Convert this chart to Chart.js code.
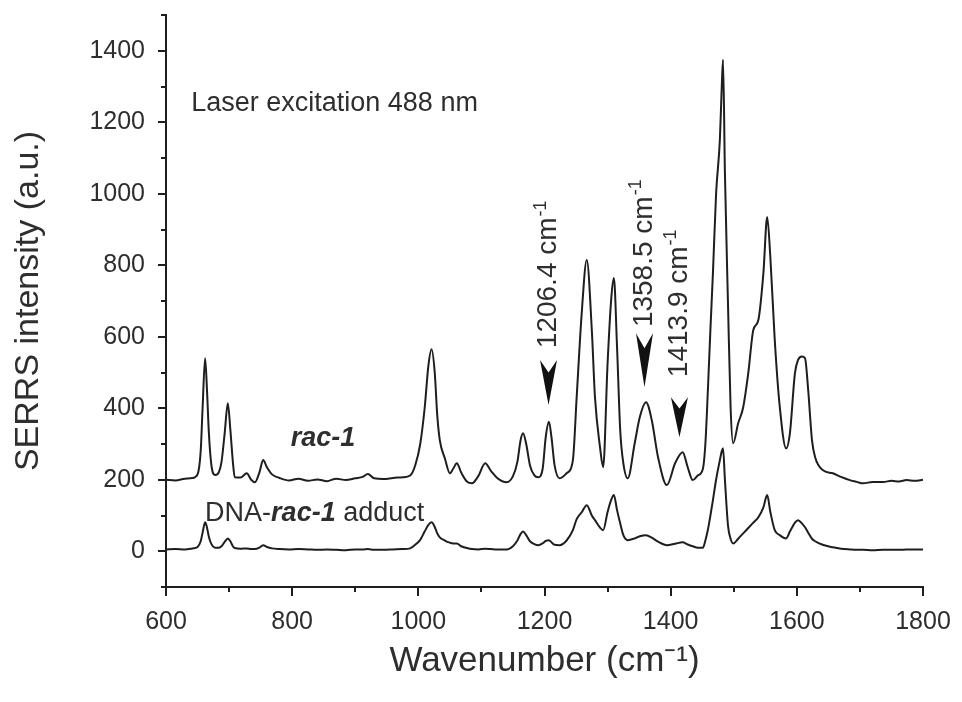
<!DOCTYPE html>
<html>
<head>
<meta charset="utf-8">
<title>SERRS spectra of rac-1 and DNA-rac-1 adduct</title>
<script src="https://cdn.jsdelivr.net/npm/chart.js@4.4.1/dist/chart.umd.min.js"></script>
<style>
  html, body { margin: 0; padding: 0; background: #ffffff; }
  canvas { display: block; }
</style>
</head>
<body>
<canvas id="spectrum" width="962" height="702"></canvas>
<script>
// Raman shift sampling points (cm-1), shared by both spectra
const wavenumbers = [
  600, 615, 630, 642, 650, 655, 658, 662, 665, 668, 672, 678, 684, 688, 693, 698, 702, 706, 709, 718,
  728, 735, 741, 748, 754, 760, 768, 780, 795, 810, 825, 840, 855, 870, 885, 900, 912, 920, 930, 945,
  960, 975, 987, 995, 1003, 1010, 1016, 1021, 1026, 1030, 1034, 1042, 1050, 1055, 1061, 1068, 1077, 1085, 1095, 1106,
  1115, 1125, 1140, 1150, 1157, 1162, 1166, 1171, 1177, 1184, 1190, 1197, 1202, 1207, 1211, 1216, 1224, 1235, 1245, 1251,
  1259, 1267, 1275, 1280, 1288, 1293, 1300, 1306, 1310, 1315, 1320, 1325, 1332, 1343, 1351, 1361, 1370, 1380, 1394, 1407,
  1419, 1427, 1435, 1443, 1451, 1455, 1459, 1463, 1467, 1472, 1478, 1481, 1483, 1486, 1491, 1495, 1499, 1507, 1515, 1523,
  1531, 1539, 1547, 1553, 1558, 1565, 1573, 1583, 1589, 1597, 1602, 1608, 1613, 1618, 1624, 1629, 1641, 1657, 1670, 1684,
  1695, 1705, 1720, 1737, 1750, 1762, 1774, 1787, 1800
];

// SERRS intensity of rac-1 (a.u.)
const rac1 = [
  200, 198, 203, 205, 215, 280, 400, 540, 450, 330, 240, 213, 222, 250, 330, 414, 340, 250, 207, 206,
  218, 200, 193, 220, 255, 235, 215, 205, 198, 203, 197, 201, 196, 203, 199, 204, 208, 216, 204, 202,
  205, 207, 212, 240, 300, 400, 520, 565, 500, 380, 311, 260, 218, 230, 246, 220, 195, 190, 210, 246,
  225, 205, 193, 210, 250, 310, 330, 300, 240, 212, 207, 230, 320, 362, 320, 240, 204, 218, 255, 431,
  666, 815, 619, 431, 291, 235, 526, 711, 764, 571, 339, 246, 204, 302, 375, 417, 367, 263, 185, 246,
  277, 235, 199, 212, 230, 300, 451, 620, 778, 1000, 1151, 1300, 1375, 1058, 683, 403, 302, 358, 403, 498,
  619, 647, 778, 935, 823, 591, 403, 288, 330, 498, 535, 545, 540, 451, 311, 263, 227, 218, 208, 199,
  194, 190, 194, 194, 197, 195, 199, 197, 200
];

// SERRS intensity of the DNA-rac-1 adduct (a.u.)
const adduct = [
  5, 6, 5, 8, 12, 28, 52, 81, 66, 40, 20, 10, 10, 14, 26, 36, 28, 14, 9, 7,
  8, 6, 6, 10, 17, 12, 8, 6, 5, 6, 5, 4, 5, 4, 3, 5, 5, 6, 4, 4,
  5, 6, 8, 18, 32, 55, 74, 81, 68, 50, 39, 30, 24, 22, 22, 14, 9, 6, 5, 7,
  6, 5, 5, 14, 30, 48, 55, 45, 28, 20, 17, 22, 29, 31, 25, 18, 17, 30, 59, 90,
  109, 129, 100, 87, 66, 59, 110, 145, 157, 115, 78, 45, 31, 36, 42, 45, 38, 27, 17, 21,
  25, 19, 14, 10, 10, 30, 60, 100, 143, 200, 255, 280, 288, 200, 70, 35, 22, 35, 50, 65,
  80, 95, 123, 157, 110, 59, 45, 36, 55, 80, 87, 78, 67, 52, 35, 28, 18, 11, 7, 5,
  4, 4, 3, 4, 4, 4, 5, 5, 5
];

// Axis ranges and labelled ticks
const xRange = [600, 1800];
const yRange = [-100, 1500];
const xTickLabels = [600, 800, 1000, 1200, 1400, 1600, 1800];
const yTickLabels = [0, 200, 400, 600, 800, 1000, 1200, 1400];

// Marked bands (cm-1)
const bandPositions = [1206.4, 1358.5, 1413.9];

const FONT = '"Liberation Sans", Arial, Helvetica, sans-serif';
const INK = '#1e1e1e';
const TEXT = '#2e2e2e';

// Where the arrows and their rotated labels sit, in intensity units
const arrowTip = [409, 459, 319];
const arrowTop = [535, 610, 431];
const labelBase = [568, 627, 487];

const toPoints = (vals) => vals.map((v, i) => ({ x: wavenumbers[i], y: v }));

// keep the plot frame fixed: no extra room for overhanging end labels
function clearOverhang(scale) {
  scale.paddingTop = 0;
  scale.paddingBottom = 0;
  scale.paddingLeft = 0;
  scale.paddingRight = 0;
}

const decorations = {
  id: 'decorations',
  afterDraw(chart) {
    const { ctx, chartArea: area } = chart;
    const xs = chart.scales.x, ys = chart.scales.y;
    ctx.save();

    // outward tick marks, long on labelled values, short in between
    ctx.strokeStyle = INK;
    ctx.lineWidth = 2;
    for (let v = yRange[0]; v <= yRange[1]; v += 100) {
      const py = Math.round(ys.getPixelForValue(v));
      const len = yTickLabels.includes(v) ? 8 : 5;
      ctx.beginPath();
      ctx.moveTo(area.left - len, py);
      ctx.lineTo(area.left, py);
      ctx.stroke();
    }
    for (let v = xRange[0]; v <= xRange[1]; v += 100) {
      const px = Math.round(xs.getPixelForValue(v));
      const len = xTickLabels.includes(v) ? 9 : 5;
      ctx.beginPath();
      ctx.moveTo(px, area.bottom);
      ctx.lineTo(px, area.bottom + len);
      ctx.stroke();
    }

    ctx.fillStyle = TEXT;
    ctx.textBaseline = 'middle';

    // experiment note
    ctx.font = `27px ${FONT}`;
    ctx.textAlign = 'left';
    ctx.fillText('Laser excitation 488 nm', xs.getPixelForValue(640), ys.getPixelForValue(1252));

    // spectrum names
    ctx.font = `italic bold 27px ${FONT}`;
    ctx.textAlign = 'center';
    ctx.fillText('rac-1', xs.getPixelForValue(849), ys.getPixelForValue(316));

    let tx = xs.getPixelForValue(662);
    const ty = ys.getPixelForValue(106);
    ctx.textAlign = 'left';
    const parts = [
      ['DNA-', `27px ${FONT}`],
      ['rac-1', `italic bold 27px ${FONT}`],
      [' adduct', `27px ${FONT}`]
    ];
    for (const [str, f] of parts) {
      ctx.font = f;
      ctx.fillText(str, tx, ty);
      tx += ctx.measureText(str).width;
    }

    // band markers: arrowheads and rotated wavenumber labels
    bandPositions.forEach((wn, i) => {
      const px = xs.getPixelForValue(wn);
      const tip = ys.getPixelForValue(arrowTip[i]);
      const top = ys.getPixelForValue(arrowTop[i]);
      const h = tip - top;
      ctx.fillStyle = '#111';
      ctx.beginPath();
      ctx.moveTo(px - 8.5, top);
      ctx.lineTo(px, top + h * 0.28);
      ctx.lineTo(px + 8.5, top);
      ctx.lineTo(px, tip);
      ctx.closePath();
      ctx.fill();

      ctx.save();
      ctx.translate(px, ys.getPixelForValue(labelBase[i]));
      ctx.rotate(-Math.PI / 2);
      ctx.fillStyle = TEXT;
      ctx.textAlign = 'left';
      ctx.textBaseline = 'middle';
      ctx.font = `28px ${FONT}`;
      const main = wn.toFixed(1) + ' cm';
      ctx.fillText(main, 0, 0);
      const w = ctx.measureText(main).width;
      ctx.font = `18px ${FONT}`;
      ctx.fillText('-1', w + 1, -8);
      ctx.restore();
    });

    ctx.restore();
  }
};

new Chart(document.getElementById('spectrum'), {
  type: 'line',
  data: {
    datasets: [
      {
        label: 'rac-1',
        data: toPoints(rac1),
        borderColor: INK,
        borderWidth: 2,
        pointRadius: 0,
        fill: false,
        cubicInterpolationMode: 'monotone'
      },
      {
        label: 'DNA-rac-1 adduct',
        data: toPoints(adduct),
        borderColor: INK,
        borderWidth: 2,
        pointRadius: 0,
        fill: false,
        cubicInterpolationMode: 'monotone'
      }
    ]
  },
  options: {
    responsive: false,
    animation: false,
    events: [],
    layout: { padding: { top: 15, right: 39, bottom: 0, left: 0 } },
    plugins: { legend: { display: false }, tooltip: { enabled: false } },
    scales: {
      x: {
        type: 'linear',
        min: xRange[0],
        max: xRange[1],
        afterFit(scale) { scale.height = 115; clearOverhang(scale); },
        grid: { display: true, drawOnChartArea: false, drawTicks: false },
        border: { display: true, color: INK, width: 2 },
        ticks: {
          stepSize: 100,
          autoSkip: false,
          maxRotation: 0,
          padding: 20,
          color: TEXT,
          font: { family: FONT, size: 25 },
          callback: (v) => (xTickLabels.includes(v) ? String(v) : '')
        },
        title: {
          display: true,
          text: 'Wavenumber (cm\u207B\u00B9)',
          color: TEXT,
          font: { family: FONT, size: 35 },
          padding: { top: 0, bottom: 20 }
        }
      },
      y: {
        type: 'linear',
        min: yRange[0],
        max: yRange[1],
        afterFit(scale) { scale.width = 166; clearOverhang(scale); },
        grid: { display: true, drawOnChartArea: false, drawTicks: false },
        border: { display: true, color: INK, width: 2 },
        ticks: {
          stepSize: 100,
          autoSkip: false,
          padding: 21,
          color: TEXT,
          font: { family: FONT, size: 25 },
          callback: (v) => (yTickLabels.includes(v) ? String(v) : '')
        },
        title: {
          display: true,
          text: 'SERRS intensity (a.u.)',
          color: TEXT,
          font: { family: FONT, size: 34 },
          padding: { top: 8, bottom: 0 }
        }
      }
    }
  },
  plugins: [decorations]
});
</script>
</body>
</html>
